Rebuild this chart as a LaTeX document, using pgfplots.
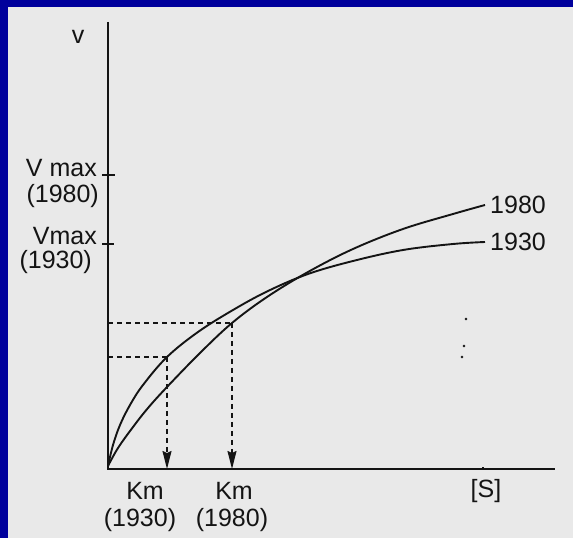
\documentclass[border=0pt]{standalone}
\usepackage{pgfplots}
\pgfplotsset{compat=1.18}
\usepackage{fontspec}
\setmainfont{Liberation Sans}
\usetikzlibrary{arrows.meta}
\definecolor{frame}{RGB}{0,0,156}
\definecolor{paper}{RGB}{233,233,233}
\definecolor{ink}{RGB}{20,20,20}
\begin{document}
\begin{tikzpicture}
\begin{axis}[
  scale only axis, width=573pt, height=538pt,
  xmin=-108, xmax=465, ymin=-69, ymax=469,
  hide axis, clip=false,
  every axis plot/.append style={ink},
]
% background
\fill[frame] (axis cs:-108,-69) rectangle (axis cs:465,469);
\fill[paper] (axis cs:-100,-69) rectangle (axis cs:465,462);
% axes
\addplot[line width=2pt] coordinates {(0,447) (0,0) (447,0)};
\addplot[line width=1.5pt] coordinates {(-6,294) (7,294)};
\addplot[line width=1.5pt] coordinates {(-6,225) (6,225)};
\addplot[line width=1.5pt] coordinates {(375,0) (375,2)};
% 1930 curve
\addplot[line width=1.9pt, smooth, tension=0.6] coordinates {
 (0,3) (5,24) (12,44) (22,64) (35,84) (59,112) (90,137) (125,159)
 (160,178) (200,195) (245,208) (295,219) (345,225) (377,227)};
% 1980 curve
\addplot[line width=1.9pt, smooth, tension=0.6] coordinates {
 (0,3) (10,21) (25,42) (40,61) (59,82) (92,116) (124,146) (159,172)
 (200,197) (245,220) (295,240) (345,255) (377,264)};
% dashed guides
\addplot[line width=1.5pt, dash pattern=on 5pt off 4pt] coordinates {(0,112) (59,112)};
\addplot[line width=1.5pt, dash pattern=on 5pt off 4pt] coordinates {(0,146) (124,146)};
\addplot[line width=1.5pt, dash pattern=on 5pt off 4pt, -{Stealth[length=18pt,width=9pt,inset=2pt]}] coordinates {(59,112) (59,0)};
\addplot[line width=1.5pt, dash pattern=on 5pt off 4pt, -{Stealth[length=18pt,width=9pt,inset=2pt]}] coordinates {(124,146) (124,0)};
% dots
\addplot[only marks, mark=*, mark size=1.1pt, ink] coordinates {(358,150) (356,123) (354,112)};
% labels
\begin{scope}[every node/.style={text=ink, font=\fontsize{25}{28}\selectfont, inner sep=0pt}]
\node[anchor=center] at (axis cs:-30,432) {v};
\node[anchor=east] at (axis cs:-11,301) {V max};
\node[anchor=east] at (axis cs:-9,273) {(1980)};
\node[anchor=east] at (axis cs:-11,233) {Vmax};
\node[anchor=east] at (axis cs:-16,207) {(1930)};
\node[anchor=west] at (axis cs:382,264) {1980};
\node[anchor=west] at (axis cs:382,227) {1930};
\node at (axis cs:37,-22) {Km};
\node at (axis cs:126,-22) {Km};
\node at (axis cs:32,-51) {(1930)};
\node at (axis cs:124,-51) {(1980)};
\node at (axis cs:378,-22) {[S]};
\end{scope}
\end{axis}
\end{tikzpicture}
\end{document}
